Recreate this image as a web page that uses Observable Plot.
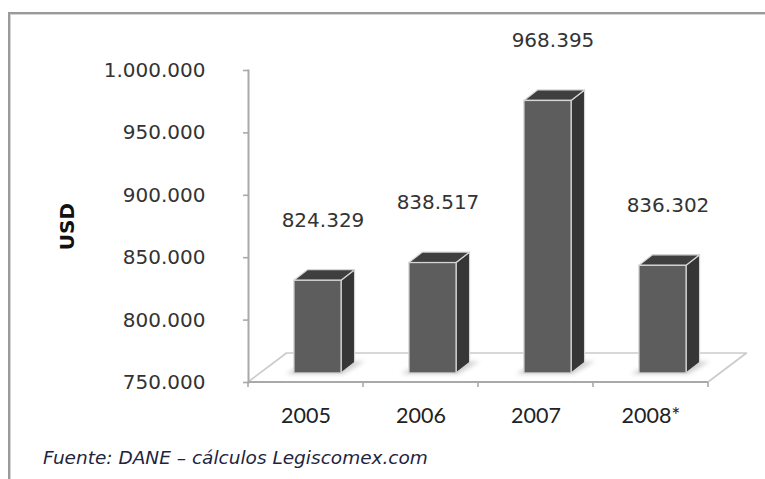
<!DOCTYPE html>
<html>
<head>
<meta charset="utf-8">
<script src="https://cdn.jsdelivr.net/npm/d3@7"></script>
<script src="https://cdn.jsdelivr.net/npm/@observablehq/plot@0.6"></script>
<style>
  html, body { margin: 0; padding: 0; background: #fff; }
  body { width: 765px; height: 479px; overflow: hidden; position: relative; }
  figure { margin: 0; }
  figcaption {
    font-family: "DejaVu Sans", Verdana, sans-serif;
    font-style: italic;
    font-size: 18.5px;
    color: #1e2440;
    padding: 17px 0 0 43px;
    line-height: 22px;
  }
  #frame {
    position: absolute; left: 8px; top: 12px; width: 1000px; height: 1000px;
    border-left: 2px solid #9a9a9a; border-top: 2px solid #9a9a9a;
    box-shadow: inset 1px 1px 0 #d4d4d4;
    pointer-events: none;
  }
</style>
</head>
<body>
<div id="chart"></div>
<div id="frame"></div>
<script>
// Exports per year, USD
const years = ["2005", "2006", "2007", "2008*"];
const values = [824329, 838517, 968395, 836302];
const yTicks = [750000, 800000, 850000, 900000, 950000, 1000000];
const yBase = 750000;

const data = years.map((year, i) => ({year, value: values[i]}));

// Spanish-style number formatting: 1.000.000
const fmt = d3.formatLocale({decimal: ",", thousands: ".", grouping: [3], currency: ["", ""]}).format(",");

// 3D look: the floor sits behind the front axis, bars sit part-way into it
const floorDepth = [38.5, -29];
const barInset = [12, -9];
const barDepth = [13.5, -10.5];
const barFrac = 0.41;

function floorAndBars(index, scales) {
  const {x, y} = scales;
  const bw = typeof x.bandwidth === "function" ? x.bandwidth() : (x.bandwidth ?? (x(years[1]) - x(years[0])));
  const g = d3.create("svg:g");
  const fid = "soft-shadow";
  g.append("defs").append("filter").attr("id", fid)
    .attr("x", "-50%").attr("y", "-50%").attr("width", "200%").attr("height", "200%")
    .append("feGaussianBlur").attr("stdDeviation", 2.2);

  const y0 = y(yBase);
  const left = x(years[0]);
  const right = x(years[years.length - 1]) + bw;
  const [fdx, fdy] = floorDepth;

  // floor plane
  g.append("path")
    .attr("d", `M${left},${y0}L${left + fdx},${y0 + fdy}L${right + fdx},${y0 + fdy}L${right},${y0}`)
    .attr("fill", "#fff").attr("stroke", "#cbcbcb").attr("stroke-width", 1.7)
    .attr("stroke-linejoin", "round");
  // front edge (category axis)
  g.append("line")
    .attr("x1", left).attr("x2", right).attr("y1", y0).attr("y2", y0)
    .attr("stroke", "#a9a9a9").attr("stroke-width", 2);
  // category ticks at band boundaries
  for (let b = 0; b <= years.length; ++b) {
    const xb = left + b * bw;
    g.append("line").attr("x1", xb).attr("x2", xb).attr("y1", y0).attr("y2", y0 + 5)
      .attr("stroke", "#a9a9a9").attr("stroke-width", 1.6);
  }

  const fw = bw * barFrac;
  const [ix, iy] = barInset;
  const [dx, dy] = barDepth;
  data.forEach(d => {
    const cx = x(d.year) + bw / 2 + ix;
    const x0 = cx - fw / 2, x1 = cx + fw / 2;
    const yb = y(yBase) + iy;
    const yt = y(d.value) + iy;
    // soft shadow around the base
    g.append("path")
      .attr("d", `M${x0 - 8},${yb + 1}L${x1 + 2},${yb + 1}L${x1 + dx + 10},${yb + dy - 1}L${x0 + dx},${yb + dy - 1}Z`)
      .attr("fill", "#bdbdbd").attr("opacity", 0.7).attr("filter", `url(#${fid})`);
    // side face
    g.append("path")
      .attr("d", `M${x1},${yt}L${x1 + dx},${yt + dy}L${x1 + dx},${yb + dy}L${x1},${yb}Z`)
      .attr("fill", "#363636").attr("stroke", "#d6d6d6").attr("stroke-width", 1.2).attr("stroke-linejoin", "round");
    // top face
    g.append("path")
      .attr("d", `M${x0},${yt}L${x0 + dx},${yt + dy}L${x1 + dx},${yt + dy}L${x1},${yt}Z`)
      .attr("fill", "#3f3f3f").attr("stroke", "#d6d6d6").attr("stroke-width", 1.2).attr("stroke-linejoin", "round");
    // front face
    g.append("rect")
      .attr("x", x0).attr("y", yt).attr("width", fw).attr("height", yb - yt)
      .attr("fill", "#5d5d5d").attr("stroke", "#d6d6d6").attr("stroke-width", 1.3);
  });
  return g.node();
}

const chart = Plot.plot({
  width: 765,
  height: 430,
  marginLeft: 248,
  marginRight: 57,
  marginTop: 70,
  marginBottom: 48,
  style: {fontFamily: "DejaVu Sans, Verdana, sans-serif", fontSize: "20px", color: "#333", background: "transparent", overflow: "visible"},
  x: {type: "band", domain: years, padding: 0, axis: null},
  y: {domain: [yBase, 1000000], axis: null},
  caption: "Fuente: DANE – cálculos Legiscomex.com",
  marks: [
    floorAndBars,
    Plot.frame({anchor: "left", stroke: "#a9a9a9", strokeWidth: 2}),
    Plot.axisY({ticks: yTicks, tickFormat: fmt, tickSize: 5, tickPadding: 38, stroke: "#a9a9a9", strokeWidth: 1.6, fill: "#333", fontSize: 20, label: null}),
    Plot.axisX({tickSize: 0, tickPadding: 25, fill: "#222", fontSize: 21.5, fontFamily: "Lato, sans-serif", label: null}),
    Plot.text(data, {x: "year", y: "value", text: d => fmt(d.value), dx: 17, dy: -69, fontSize: 20, fill: "#333"}),
    Plot.text(["USD"], {frameAnchor: "left", textAnchor: "middle", dx: -181, rotate: -90, fontWeight: "bold", fontSize: 20, fill: "#111"})
  ]
});
document.getElementById("chart").append(chart);
</script>
</body>
</html>
